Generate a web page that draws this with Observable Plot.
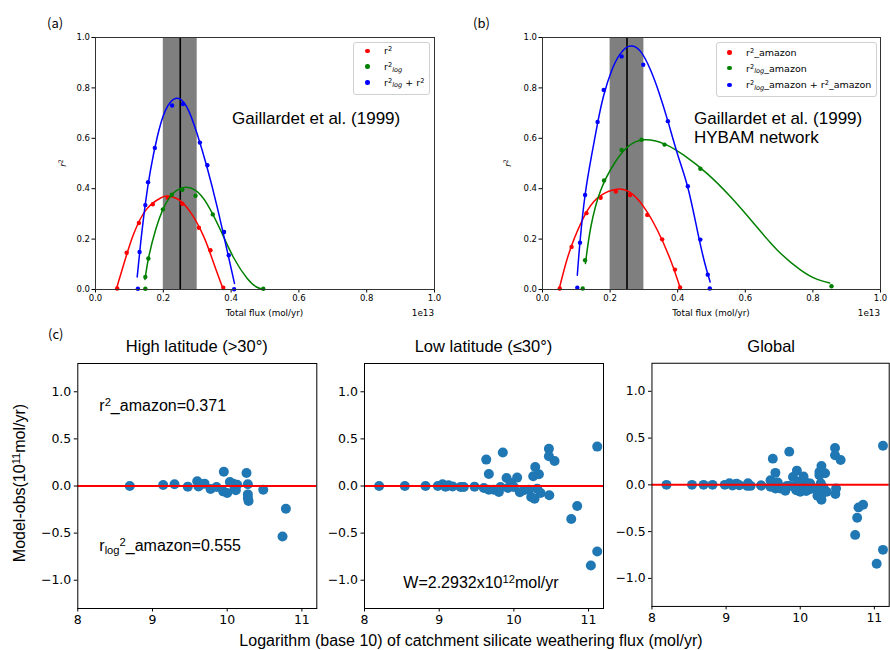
<!DOCTYPE html>
<html><head><meta charset="utf-8">
<script src="https://cdn.jsdelivr.net/npm/d3@7"></script>
<script src="https://cdn.jsdelivr.net/npm/@observablehq/plot@0.6"></script>
<style>
html,body{margin:0;padding:0;background:#fff;overflow:hidden}
#fig{position:relative;width:890px;height:650px;overflow:hidden;color:#000;background:#fff}
.pane{position:absolute}
.t{position:absolute;white-space:nowrap;line-height:1;font-family:"Liberation Sans",Arial,sans-serif;color:#000}
.dj{font-family:"DejaVu Sans",sans-serif}
sup{font-size:0.7em;vertical-align:0;position:relative;top:-0.45em;line-height:0}
sub{font-size:0.7em;vertical-align:0;position:relative;top:0.28em;line-height:0}
.leg{position:absolute;border:1px solid #d0d0d0;border-radius:3px;background:rgba(255,255,255,0.85);box-sizing:border-box}
.ld{position:absolute;width:4.5px;height:4.5px;border-radius:50%}
</style></head>
<body><div id="fig"></div>
<script>
// ---------- Panel (a): Gaillardet et al. (1999) ----------
const aR2Pts  = [[0.064,0.004],[0.092,0.146],[0.128,0.264],[0.169,0.338],[0.213,0.364],[0.256,0.340],[0.305,0.245],[0.339,0.156],[0.377,0.007]];
const aR2Fit  = [[0.061,0],[0.084,0.103],[0.113,0.222],[0.152,0.321],[0.192,0.363],[0.209,0.371],[0.241,0.360],[0.280,0.307],[0.320,0.208],[0.349,0.103],[0.377,0]];
const aLogPts = [[0.147,0.003],[0.147,0.050],[0.156,0.123],[0.199,0.318],[0.225,0.376],[0.256,0.396],[0.295,0.372],[0.346,0.298],[0.379,0.228],[0.495,0.003]];
const aLogFit = [[0.146,0.040],[0.157,0.129],[0.177,0.235],[0.202,0.327],[0.231,0.384],[0.263,0.405],[0.295,0.393],[0.329,0.340],[0.369,0.235],[0.408,0.125],[0.447,0.045],[0.475,0.010],[0.495,0]];
const aSumPts = [[0.125,0.003],[0.130,0.149],[0.147,0.335],[0.155,0.426],[0.175,0.562],[0.226,0.730],[0.258,0.736],[0.308,0.583],[0.330,0.493],[0.379,0.228],[0.393,0.136],[0.409,0.001]];
const aSumFit = [[0.123,0.050],[0.133,0.182],[0.147,0.340],[0.162,0.472],[0.182,0.604],[0.206,0.710],[0.238,0.759],[0.270,0.723],[0.300,0.617],[0.329,0.485],[0.359,0.327],[0.388,0.156],[0.410,0.024]];

// ---------- Panel (b): Gaillardet et al. (1999) + HYBAM network ----------
const bR2Pts  = [[0.051,0.004],[0.086,0.169],[0.130,0.303],[0.172,0.364],[0.217,0.389],[0.259,0.375],[0.310,0.296],[0.354,0.199],[0.392,0.079],[0.407,0.008]];
const bR2Fit  = [[0.049,0],[0.069,0.103],[0.094,0.202],[0.133,0.314],[0.172,0.373],[0.220,0.398],[0.261,0.383],[0.300,0.327],[0.340,0.235],[0.379,0.116],[0.409,0]];
const bLogPts = [[0.119,0.004],[0.126,0.116],[0.182,0.433],[0.234,0.554],[0.293,0.594],[0.361,0.575],[0.467,0.479],[0.855,0.013]];
const bLogFit = [[0.127,0.103],[0.143,0.248],[0.172,0.393],[0.212,0.499],[0.251,0.565],[0.300,0.594],[0.360,0.578],[0.419,0.532],[0.488,0.459],[0.557,0.367],[0.626,0.261],[0.695,0.156],[0.764,0.077],[0.813,0.040],[0.850,0.026]];
const bSumPts = [[0.103,0.007],[0.111,0.186],[0.126,0.375],[0.163,0.665],[0.181,0.792],[0.234,0.925],[0.298,0.892],[0.371,0.668],[0.430,0.410],[0.467,0.198],[0.489,0.059],[0.495,0.004]];
const bSumFit = [[0.103,0.057],[0.111,0.190],[0.126,0.375],[0.145,0.530],[0.163,0.660],[0.181,0.770],[0.205,0.870],[0.230,0.935],[0.259,0.966],[0.290,0.945],[0.320,0.870],[0.345,0.780],[0.371,0.668],[0.400,0.535],[0.430,0.405],[0.458,0.235],[0.480,0.105],[0.496,0.030]];

const band = [{x1:0.2, x2:0.3}];
const bestFlux = [0.25];
const fluxTicks = [0,0.2,0.4,0.6,0.8,1.0];
const r2Ticks = [0,0.2,0.4,0.6,0.8,1.0];

// ---------- Panel (c): Model-obs residuals ----------
const highLat = [[8.696,0.0],[9.143,0.011],[9.295,0.018],[9.473,-0.007],[9.599,0.050],[9.616,-0.004],[9.62,0.0],[9.643,0.018],[9.697,0.025],[9.777,-0.032],[9.857,-0.011],[9.955,0.152],[9.946,-0.057],[10.0,-0.074],[10.036,0.043],[10.081,0.025],[10.10,-0.02],[10.116,-0.046],[10.134,0.014],[10.259,0.138],[10.277,0.018],[10.277,-0.089],[10.277,-0.128],[10.286,-0.160],[10.483,-0.039],[10.786,-0.241],[10.741,-0.535]];
const lowLat = [[8.196,0],[8.540,0],[8.817,0],[8.982,0],[9.045,0.018],[9.085,-0.007],[9.125,0.007],[9.179,-0.004],[9.286,-0.011],[9.330,-0.011],[9.473,-0.007],[9.598,-0.021],[9.630,0.280],[9.665,0.128],[9.665,-0.039],[9.732,-0.039],[9.799,-0.064],[9.821,-0.011],[9.852,0.355],[9.902,0.085],[9.920,-0.021],[9.964,0.032],[9.999,-0.011],[10.044,0.089],[10.080,-0.067],[10.133,-0.046],[10.200,-0.039],[10.232,-0.117],[10.259,0.103],[10.277,-0.135],[10.286,0.202],[10.313,-0.028],[10.335,0.124],[10.357,-0.074],[10.469,0.394],[10.469,0.316],[10.474,-0.099],[10.545,0.266],[10.768,-0.351],[10.848,-0.213],[11.031,-0.844],[11.116,-0.695],[11.116,0.418]];
const globalAll = highLat.concat(lowLat);
const logTicks = [8,9,10,11];
const residTicks = [-1.0,-0.5,0,0.5,1.0];
const zeroLine = [0];

const fig = document.getElementById("fig");
function place(el, left, top){
  const d = document.createElement("div");
  d.className = "pane"; d.style.left = left+"px"; d.style.top = top+"px";
  d.appendChild(el); fig.appendChild(d);
}
function txt(html, x, baseline, size, align, cls, extra){
  const d = document.createElement("div");
  d.className = "t" + (cls ? " "+cls : "");
  d.innerHTML = html;
  d.style.fontSize = size+"px";
  d.style.left = x+"px";
  d.style.top = (baseline - 0.85*size)+"px";
  if (align === "center") d.style.transform = "translateX(-50%)";
  if (align === "right") d.style.transform = "translateX(-100%)";
  if (extra) Object.assign(d.style, extra);
  fig.appendChild(d);
}
function vtxt(html, cx, cy, size, cls){
  const d = document.createElement("div");
  d.className = "t" + (cls ? " "+cls : "");
  d.innerHTML = html;
  d.style.fontSize = size+"px";
  d.style.left = cx+"px"; d.style.top = cy+"px";
  d.style.transform = "translate(-50%,-50%) rotate(-90deg)";
  fig.appendChild(d);
}
const X = d => d[0], Y = d => d[1];

function fluxPanel(series, w, ml, mr){
  const marks = [
    Plot.rect(band, {x1:"x1", x2:"x2", fill:"#000", fillOpacity:0.5}),
    Plot.ruleX(bestFlux, {stroke:"#000", strokeWidth:1.6})
  ];
  for (const s of series){
    marks.push(Plot.line(s.fit, {x:X, y:Y, stroke:s.color, strokeWidth:1.5, curve:"natural"}));
    marks.push(Plot.dot(s.pts, {x:X, y:Y, r:2.2, fill:s.color}));
  }
  marks.push(Plot.frame({stroke:"#333"}));
  return Plot.plot({
    width:w, height:320, marginLeft:ml, marginRight:mr, marginTop:37, marginBottom:31,
    x:{domain:[0,1], ticks:fluxTicks, tickFormat:d3.format(".1f"), label:null, tickSize:3.5, tickPadding:2},
    y:{domain:[0,1], ticks:r2Ticks, tickFormat:d3.format(".1f"), label:null, tickSize:3.5, tickPadding:2},
    style:{fontFamily:"DejaVu Sans", fontSize:"8.5px", color:"#000", background:"transparent", overflow:"visible"},
    marks
  });
}

place(fluxPanel([
  {pts:aR2Pts, fit:aR2Fit, color:"#ff0000"},
  {pts:aLogPts, fit:aLogFit, color:"#008000"},
  {pts:aSumPts, fit:aSumFit, color:"#0000ff"}
], 445, 95, 11), 0, 0);

place(fluxPanel([
  {pts:bR2Pts, fit:bR2Fit, color:"#ff0000"},
  {pts:bLogPts, fit:bLogFit, color:"#008000"},
  {pts:bSumPts, fit:bSumFit, color:"#0000ff"}
], 445, 97, 10), 445, 0);

function residPanel(pts, w, ml, mr){
  return Plot.plot({
    width:w, height:300, marginLeft:ml, marginRight:mr, marginTop:33, marginBottom:22,
    x:{domain:[8,11.2], ticks:logTicks, tickFormat:d3.format("d"), label:null, tickSize:3.5, tickPadding:3},
    y:{domain:[-1.3,1.3], ticks:residTicks, tickFormat:d3.format(".1f"), label:null, tickSize:3.5, tickPadding:3},
    style:{fontFamily:"DejaVu Sans", fontSize:"12.5px", color:"#000", background:"transparent", overflow:"visible"},
    marks:[
      Plot.dot(pts, {x:X, y:Y, r:5, fill:"#1f77b4"}),
      Plot.ruleY(zeroLine, {stroke:"#ff0000", strokeWidth:2}),
      Plot.frame({stroke:"#000"})
    ]
  });
}
place(residPanel(highLat, 330, 77.3, 13.7), 0, 330);
place(residPanel(lowLat, 290, 34, 17), 330, 330);
place(residPanel(globalAll, 272, 31.7, 1.3), 620, 330);

// ---------- text ----------
txt("(a)", 47, 27, 13, null, null, {fontFamily:'"Noto Sans CJK SC",sans-serif'});
txt("(b)", 473, 27, 13, null, null, {fontFamily:'"Noto Sans CJK SC",sans-serif'});
txt("(c)", 48, 338, 13, null, null, {fontFamily:'"Noto Sans CJK SC",sans-serif'});

txt("Total flux (mol/yr)", 264.5, 316, 8.8, "center", "dj");
txt("1e13", 434, 316, 8.8, "right", "dj");
txt("Total flux (mol/yr)", 711, 316, 8.8, "center", "dj");
txt("1e13", 880, 316, 8.8, "right", "dj");
vtxt("<i>r</i><sup>2</sup>", 63, 163, 9, "dj");
vtxt("<i>r</i><sup>2</sup>", 508, 163, 9, "dj");

txt("Gaillardet et al. (1999)", 232, 124.3, 17);
txt("Gaillardet et al. (1999)", 694, 124.3, 17);
txt("HYBAM network", 694, 143.3, 17);

function legend(left, top, w, h, dotX, textX, rows){
  const box = document.createElement("div");
  box.className = "leg";
  Object.assign(box.style, {left:left+"px", top:top+"px", width:w+"px", height:h+"px"});
  fig.appendChild(box);
  for (const r of rows){
    const dot = document.createElement("div");
    dot.className = "ld";
    Object.assign(dot.style, {left:(left+dotX-2.25)+"px", top:(top+r.y-2.25)+"px", background:r.color});
    fig.appendChild(dot);
    txt(r.html, left+textX, top+r.y+3.4, 9.5, null, "dj");
  }
}
legend(353, 42, 77, 53, 14.3, 31, [
  {y:9, color:"#ff0000", html:"r<sup>2</sup>"},
  {y:24.7, color:"#008000", html:"r<sup>2</sup><sub><i>log</i></sub>"},
  {y:40.3, color:"#0000ff", html:"r<sup>2</sup><sub><i>log</i></sub> + r<sup>2</sup>"}
]);
legend(716, 42, 161, 55, 13.3, 30, [
  {y:10.7, color:"#ff0000", html:"r<sup>2</sup>_amazon"},
  {y:26.2, color:"#008000", html:"r<sup>2</sup><sub><i>log</i></sub>_amazon"},
  {y:43, color:"#0000ff", html:"r<sup>2</sup><sub><i>log</i></sub>_amazon + r<sup>2</sup>_amazon"}
]);

txt("High latitude (&gt;30°)", 196.8, 352.3, 16.5, "center");
txt("Low latitude (≤30°)", 483.5, 352.3, 16.5, "center");
txt("Global", 771.2, 352.3, 16.5, "center");

txt("r<sup>2</sup>_amazon=0.371", 99.3, 411.7, 16);
txt("r<sub>log</sub><sup>2</sup>_amazon=0.555", 99.3, 551.7, 16);
txt("W=2.2932x10<sup>12</sup>mol/yr", 403.3, 588.3, 16);

vtxt("Model-obs(10<sup>11</sup>mol/yr)", 20, 483, 16);
txt("Logarithm (base 10) of catchment silicate weathering flux (mol/yr)", 471, 646.7, 16, "center");
</script>
</body></html>
